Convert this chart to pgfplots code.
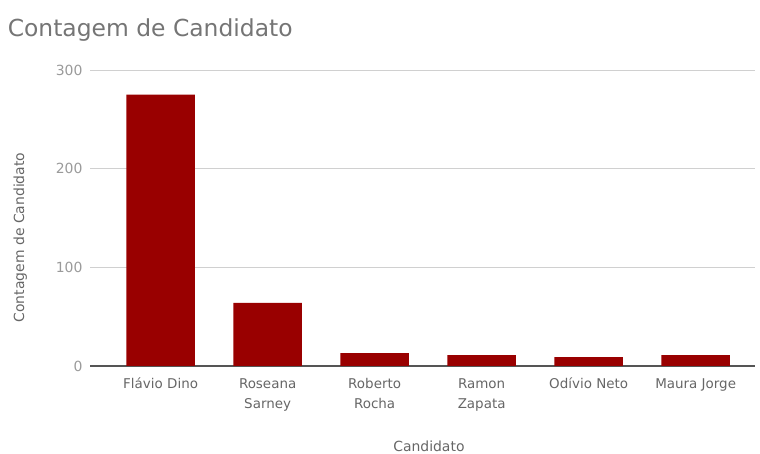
\documentclass[border=0pt]{standalone}
\usepackage{fontspec}
\setmainfont{DejaVu Sans}
\usepackage{pgfplots}
\pgfplotsset{compat=1.18}
\definecolor{barred}{HTML}{990000}
\definecolor{gridgray}{HTML}{D0D0D0}
\definecolor{ticktext}{HTML}{9A9A9A}
\definecolor{labtext}{HTML}{666666}
\definecolor{titletext}{HTML}{757575}
\definecolor{axisline}{HTML}{555555}
\begin{document}
\begin{tikzpicture}[x=1bp,y=1bp]
\path[use as bounding box] (0,0) rectangle (760,454);
\begin{axis}[
  at={(90bp,88bp)}, anchor=south west,
  scale only axis, width=664.5bp, height=296bp,
  xmin=-0.66, xmax=5.55, ymin=0, ymax=300,
  ytick={100,200,300},
  extra y ticks={0},
  extra y tick style={grid style={draw=axisline, line width=1.2pt}},
  ymajorgrids,
  grid style={draw=gridgray, line width=0.7pt},
  axis line style={draw=none},
  tick style={draw=none},
  xtick={0,...,5},
  xticklabels={\strut Flávio Dino, {\strut Roseana\\\strut Sarney}, {\strut Roberto\\\strut Rocha}, {\strut Ramon\\\strut Zapata}, \strut Odívio Neto, \strut Maura Jorge},
  xticklabel style={align=center, font=\fontsize{13.5}{20}\selectfont, text=labtext, anchor=north, yshift=-5bp},
  yticklabel style={font=\fontsize{14}{16}\selectfont, text=ticktext, xshift=-4bp},
  /pgf/number format/assume math mode=true,
  ylabel={Contagem de Candidato},
  ylabel style={font=\fontsize{14}{16}\selectfont, text=labtext, at={(axis description cs:-0.105,0.434)}, anchor=center},
  xlabel={Candidato},
  xlabel style={font=\fontsize{14}{16}\selectfont, text=labtext, at={(axis description cs:0.51,-0.27)}, anchor=center},
  title={Contagem de Candidato},
  title style={font=\fontsize{23.5}{26}\selectfont, text=titletext, at={(axis description cs:-0.129,1.115)}, anchor=west},
  clip=false,
]
\addplot[ybar, bar width=0.64, fill=barred, draw=none] coordinates {
  (0,275) (1,64) (2,13) (3,11) (4,9) (5,11)
};
\end{axis}
\end{tikzpicture}
\end{document}
